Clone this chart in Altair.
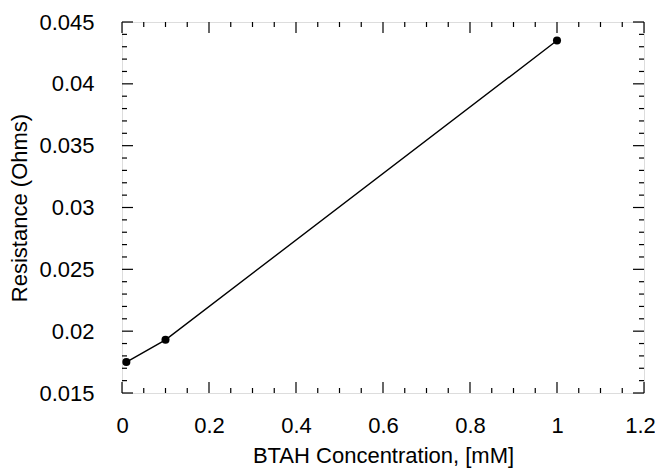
import altair as alt
import pandas as pd

# Data
conc = [0.01, 0.1, 1.0]
resistance = [0.0175, 0.0193, 0.0435]

x_major = [0.0, 0.2, 0.4, 0.6, 0.8, 1.0, 1.2]
x_minor = [round(0.05 * i, 2) for i in range(25) if i % 4 != 0]
y_major = [0.015, 0.02, 0.025, 0.03, 0.035, 0.04, 0.045]
y_minor = [round(0.015 + 0.001 * i, 3) for i in range(31) if i % 5 != 0]

W, H = 522, 371
FONT = "Liberation Sans"
FS = 22

df = pd.DataFrame({"x": conc, "y": resistance})
xs = alt.Scale(domain=[0, 1.2], nice=False, zero=False)
ys = alt.Scale(domain=[0.015, 0.045], nice=False, zero=False)

xaxis = alt.Axis(values=x_major, format=".1~f", ticks=False, domain=False, grid=False,
                 labelFont=FONT, labelFontSize=FS, labelColor="black", labelPadding=22,
                 labelOffset={"condition": {"test": "datum.value > 1.1", "value": -4}, "value": 0},
                 title="BTAH Concentration, [mM]", titleFont=FONT, titleFontSize=FS,
                 titleFontWeight="normal", titleColor="black", titlePadding=9,
                 labelFlush=False)
yaxis = alt.Axis(values=y_major, format=".3~f", ticks=False, domain=False, grid=False,
                 labelFont=FONT, labelFontSize=FS, labelColor="black", labelPadding=28,
                 title="Resistance (Ohms)", titleFont=FONT, titleFontSize=FS,
                 titleFontWeight="normal", titleColor="black", titlePadding=7,
                 labelFlush=False)

base = alt.Chart(df)
line = base.mark_line(color="black", strokeWidth=1.4).encode(
    x=alt.X("x:Q", scale=xs, axis=xaxis),
    y=alt.Y("y:Q", scale=ys, axis=yaxis),
)
pts = base.mark_point(filled=True, color="black", size=65, opacity=1).encode(
    x=alt.X("x:Q", scale=xs, axis=xaxis),
    y=alt.Y("y:Q", scale=ys, axis=yaxis),
)

def xticks(vals, length):
    d = pd.DataFrame({"v": vals})
    bot = alt.Chart(d).mark_rule(color="black", strokeWidth=1.2).encode(
        x=alt.X("v:Q", scale=xs, axis=xaxis), y=alt.value(H), y2=alt.value(H - length))
    top = alt.Chart(d).mark_rule(color="black", strokeWidth=1.2).encode(
        x=alt.X("v:Q", scale=xs, axis=xaxis), y=alt.value(0), y2=alt.value(length))
    return [bot, top]

def yticks(vals, length):
    d = pd.DataFrame({"v": vals})
    left = alt.Chart(d).mark_rule(color="black", strokeWidth=1.2).encode(
        y=alt.Y("v:Q", scale=ys, axis=yaxis), x=alt.value(0), x2=alt.value(length))
    right = alt.Chart(d).mark_rule(color="black", strokeWidth=1.2).encode(
        y=alt.Y("v:Q", scale=ys, axis=yaxis), x=alt.value(W), x2=alt.value(W - length))
    return [left, right]

layers = [line, pts] + xticks(x_major, 11) + xticks(x_minor, 5) + yticks(y_major, 11) + yticks(y_minor, 5)

chart = alt.layer(*layers).properties(
    width=W, height=H,
    autosize=alt.AutoSizeParams(type="none"),
    padding={"left": 114, "top": 14, "right": 11, "bottom": 76},
).configure_view(stroke="black", strokeWidth=1.5).configure(background="white")

chart.save("out.html", embed_options={"renderer": "svg", "actions": False})
